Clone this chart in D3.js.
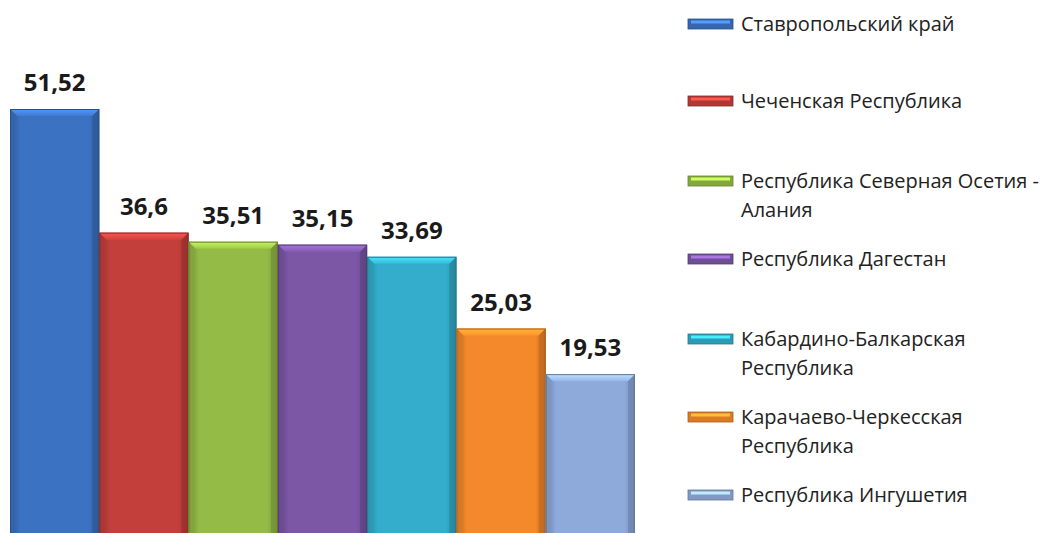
<!DOCTYPE html>
<html><head><meta charset="utf-8">
<script src="https://cdn.jsdelivr.net/npm/d3@7"></script>
<style>
html,body{margin:0;padding:0;background:#fff;}
svg{display:block;}
</style></head>
<body>
<svg id="chart" width="1055" height="533"></svg>
<script>
const categories = ["Ставропольский край","Чеченская Республика","Республика Северная Осетия - Алания","Республика Дагестан","Кабардино-Балкарская Республика","Карачаево-Черкесская Республика","Республика Ингушетия"];
const values = [51.52, 36.6, 35.51, 35.15, 33.69, 25.03, 19.53];
const valueLabels = ["51,52","36,6","35,51","35,15","33,69","25,03","19,53"];
const legendLines = [["Ставропольский край"],["Чеченская Республика"],["Республика Северная Осетия -","Алания"],["Республика Дагестан"],["Кабардино-Балкарская","Республика"],["Карачаево-Черкесская","Республика"],["Республика Ингушетия"]];
const colors = ["#3c72c2","#c23f3b","#94bb45","#7b57a6","#33adcb","#f3892a","#8eaadb"];

const svg = d3.select("#chart");
const defs = svg.append("defs");

const x = d3.scaleBand().domain(categories).range([10, 635]).padding(0);
const y = d3.scaleLinear().domain([0, 51.52]).range([536, 109]);

colors.forEach((c, i) => {
  const base = d3.color(c);
  const g = defs.append("linearGradient").attr("id", "g" + i).attr("x1", 0).attr("x2", 1).attr("y1", 0).attr("y2", 0);
  g.append("stop").attr("offset", "0%").attr("stop-color", base.darker(0.6));
  g.append("stop").attr("offset", "12%").attr("stop-color", base);
  g.append("stop").attr("offset", "88%").attr("stop-color", base);
  g.append("stop").attr("offset", "100%").attr("stop-color", base.darker(0.6));
  const t = defs.append("linearGradient").attr("id", "t" + i).attr("x1", 0).attr("x2", 0).attr("y1", 0).attr("y2", 1);
  t.append("stop").attr("offset", "0%").attr("stop-color", base.brighter(0.8));
  t.append("stop").attr("offset", "100%").attr("stop-color", base.brighter(0.2));
});

const bev = 7;
const bars = svg.append("g").selectAll("g").data(categories).join("g");
bars.each(function(d, i) {
  const gsel = d3.select(this);
  const x0 = x(d), w = x.bandwidth(), y0 = y(values[i]), y1 = y(0);
  const base = d3.color(colors[i]);
  gsel.append("rect").attr("x", x0).attr("y", y0).attr("width", w).attr("height", y1 - y0)
    .attr("fill", `url(#g${i})`);
  gsel.append("path").attr("d", `M${x0},${y0}L${x0 + w},${y0}L${x0 + w - bev},${y0 + bev}L${x0 + bev},${y0 + bev}Z`)
    .attr("fill", `url(#t${i})`);
  gsel.append("path").attr("d", `M${x0},${y0}L${x0 + bev},${y0 + bev}L${x0 + bev},${y1}L${x0},${y1}Z`)
    .attr("fill", base.darker(0.35)).attr("opacity", 0.6);
  gsel.append("path").attr("d", `M${x0 + w},${y0}L${x0 + w - bev},${y0 + bev}L${x0 + w - bev},${y1}L${x0 + w},${y1}Z`)
    .attr("fill", base.darker(0.8)).attr("opacity", 0.6);
  gsel.append("rect").attr("x", x0 + 0.5).attr("y", y0 + 0.5).attr("width", w - 1).attr("height", y1 - y0)
    .attr("fill", "none").attr("stroke", base.darker(1.0)).attr("stroke-width", 1);
});

svg.append("g").selectAll("text").data(categories).join("text")
  .attr("x", d => x(d) + x.bandwidth() / 2)
  .attr("y", (d, i) => y(values[i]) - 18)
  .attr("text-anchor", "middle")
  .attr("font-family", "Open Sans, sans-serif")
  .attr("font-weight", "bold")
  .attr("font-size", 24)
  .attr("fill", "#1a1a1a")
  .text((d, i) => valueLabels[i]);

const legendY = [24, 101, 181, 259, 339, 417, 495];
const leg = svg.append("g").selectAll("g").data(categories).join("g")
  .attr("transform", (d, i) => `translate(688,${legendY[i]})`);
leg.each(function(d, i) {
  const gsel = d3.select(this);
  const base = d3.color(colors[i]);
  gsel.append("rect").attr("x", 0).attr("y", -5).attr("width", 45).attr("height", 10)
    .attr("fill", base.darker(0.3)).attr("stroke", base.darker(1)).attr("stroke-width", 0.8);
  gsel.append("rect").attr("x", 3).attr("y", -3.5).attr("width", 39).attr("height", 3)
    .attr("fill", base.brighter(0.9));
  const t = gsel.append("text").attr("x", 53).attr("y", 7)
    .attr("font-family", "Open Sans, sans-serif").attr("font-size", 20).attr("fill", "#222");
  legendLines[i].forEach((ln, j) => {
    t.append("tspan").attr("x", 53).attr("dy", j === 0 ? 0 : 29).text(ln);
  });
});
</script>
</body></html>
